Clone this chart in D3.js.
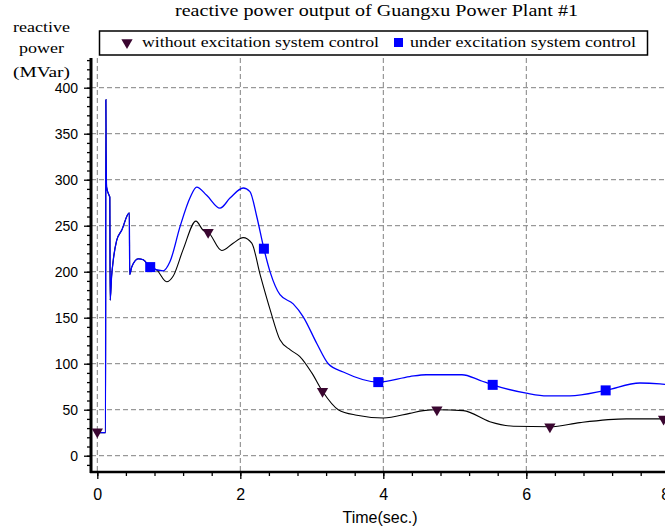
<!DOCTYPE html>
<meta charset="utf-8">
<style>
body { margin: 0; background: #fff; }
.grid { stroke: #808080; stroke-width: 1px; stroke-dasharray: 5,3; fill: none; }
.serif { font-family: "Liberation Serif", "Times New Roman", serif; fill: #000; }
.sans { font-family: "Liberation Sans", Arial, sans-serif; fill: #000; }
.tick line { stroke: #000; stroke-width: 1.3px; }
</style>
<svg width="665" height="531"></svg>
<script src="https://cdn.jsdelivr.net/npm/d3@7"></script>
<script>
var width = 665,
    height = 531;

// time (sec.) and reactive power (MVar)
var underT = [0, 0.115, 0.12, 0.123, 0.127, 0.13, 0.165, 0.175, 0.18, 0.2, 0.224, 0.271, 0.341, 0.448, 0.453, 0.481, 0.573, 0.643, 0.737,
  0.923, 1.017, 1.157, 1.30, 1.39, 1.53, 1.716, 1.856, 2.04, 2.135, 2.23, 2.33, 2.42, 2.555, 2.74, 2.88, 3.07, 3.23, 3.44, 3.93,
  4.37, 4.6, 5.1, 5.35, 5.53, 6.0, 6.29, 6.61, 7.11, 7.59, 7.87, 8.0];
var underV = [25, 25, 387, 332, 300, 292, 283, 281, 169, 195, 213, 234, 245, 264, 197, 205, 214, 213, 205,
  201, 211, 249, 281, 292, 283, 269, 280, 291, 287, 260, 225, 199, 175, 165, 151, 122, 100, 91, 80,
  86, 88, 88, 82, 77, 68, 65, 65, 71, 79, 78, 77];

var withoutT = [0, 0.115, 0.12, 0.123, 0.127, 0.13, 0.165, 0.175, 0.18, 0.2, 0.224, 0.271, 0.341, 0.448, 0.453, 0.481, 0.573, 0.643, 0.737,
  0.83, 0.97, 1.06, 1.2, 1.38, 1.48, 1.55, 1.74, 1.90, 2.04, 2.16, 2.28, 2.42, 2.555, 2.70, 2.83, 3.0, 3.15, 3.37, 3.63, 4.0,
  4.37, 4.56, 4.75, 5.12, 5.49, 5.82, 6.33, 6.75, 7.40, 7.92, 8.0];
var withoutV = [25, 25, 387, 332, 300, 292, 283, 281, 169, 195, 213, 234, 245, 264, 197, 205, 214, 213, 205,
  202, 189, 195, 224, 255, 245, 243, 223, 231, 237, 231, 196, 158, 126, 115, 108, 90, 70, 50, 44, 41,
  46, 49, 50, 49, 37, 32, 31.5, 36, 40, 40, 40];

var underMarkT = [0.74, 2.33, 3.93, 5.53, 7.11],
    underMarkV = [205, 225, 80, 77, 71];
var withoutMarkT = [0, 1.55, 3.15, 4.75, 6.33, 7.92],
    withoutMarkV = [26, 243, 70, 50, 31.5, 40];

var xTicks = [0, 2, 4, 6, 8],
    yTicks = [0, 50, 100, 150, 200, 250, 300, 350, 400];

var titleText = "reactive power output of Guangxu Power Plant #1",
    yLabel = ["reactive", "power", "(MVar)"],
    xLabel = "Time(sec.)",
    legendNames = ["without excitation system control", "under excitation system control"];

var blue = "#0000ff", dark = "#3a0630";

var svg = d3.select("svg").attr("width", width).attr("height", height);

var x = d3.scaleLinear().domain([0, 8]).range([97.3, 669.3]);
var y = d3.scaleLinear().domain([0, 400]).range([455.7, 87.7]);

var axisX = 91, axisY = 472, plotTop = 58;

// grid
svg.append("g").selectAll("line.h")
    .data(yTicks)
  .enter().append("line")
    .attr("class", "grid")
    .attr("x1", axisX).attr("x2", width)
    .attr("y1", function(d) { return y(d); })
    .attr("y2", function(d) { return y(d); });
svg.append("g").selectAll("line.v")
    .data(xTicks)
  .enter().append("line")
    .attr("class", "grid")
    .attr("y1", plotTop).attr("y2", axisY)
    .attr("x1", function(d) { return x(d); })
    .attr("x2", function(d) { return x(d); });

// y axis: minor every 10, major every 50
var yMinor = d3.range(-10, 431, 10);
svg.append("g")
    .attr("transform", "translate(" + axisX + ",0)")
    .call(d3.axisLeft(y).tickValues(yMinor).tickSize(4).tickFormat(""))
    .call(function(g) { g.select(".domain").remove(); });
svg.append("g")
    .attr("class", "sans")
    .attr("transform", "translate(" + axisX + ",0)")
    .call(d3.axisLeft(y).tickValues(yTicks).tickSize(7).tickPadding(6))
    .call(function(g) {
      g.select(".domain").remove();
      g.selectAll("text").attr("font-size", "14px").attr("fill", "#000")
        .attr("font-family", "Liberation Sans, Arial, sans-serif");
    });

// x axis: minor every 0.4
var xMinor = d3.range(0, 8.01, 0.4);
svg.append("g")
    .attr("transform", "translate(0," + axisY + ")")
    .call(d3.axisBottom(x).tickValues(xMinor).tickSize(4).tickFormat(""))
    .call(function(g) { g.select(".domain").remove(); });
svg.append("g")
    .attr("transform", "translate(0," + axisY + ")")
    .call(d3.axisBottom(x).tickValues(xTicks).tickSize(7).tickPadding(10).tickFormat(d3.format("d")))
    .call(function(g) {
      g.select(".domain").remove();
      g.selectAll("text").attr("font-size", "16px").attr("fill", "#000")
        .attr("font-family", "Liberation Sans, Arial, sans-serif")
        .attr("x", function(d) { return d === 8 ? -4 : 0; });  // last label sits at the window edge
    });

// axis lines
svg.append("line")
    .attr("x1", axisX).attr("x2", axisX)
    .attr("y1", plotTop).attr("y2", axisY + 1)
    .attr("stroke", "#000").attr("stroke-width", 3);
svg.append("line")
    .attr("x1", axisX - 1).attr("x2", width)
    .attr("y1", axisY).attr("y2", axisY)
    .attr("stroke", "#000").attr("stroke-width", 2.5);

// curves
var line = d3.line()
    .x(function(d) { return x(d[0]); })
    .y(function(d) { return y(d[1]); })
    .curve(d3.curveMonotoneX);

var withoutData = withoutT.map(function(t, i) { return [t, withoutV[i]]; });
var underData = underT.map(function(t, i) { return [t, underV[i]]; });

svg.append("path")
    .datum(withoutData)
    .attr("d", line)
    .attr("fill", "none").attr("stroke", "#000").attr("stroke-width", 1.1);
svg.append("path")
    .datum(underData)
    .attr("d", line)
    .attr("fill", "none").attr("stroke", blue).attr("stroke-width", 1.3);

var tri = d3.symbol().type(d3.symbolTriangle).size(55);

svg.append("g").selectAll("path")
    .data(withoutMarkT)
  .enter().append("path")
    .attr("d", tri)
    .attr("fill", dark)
    .attr("transform", function(d, i) {
      return "translate(" + x(d) + "," + y(withoutMarkV[i]) + ") rotate(180)";
    });

svg.append("g").selectAll("rect")
    .data(underMarkT)
  .enter().append("rect")
    .attr("x", function(d) { return x(d) - 5; })
    .attr("y", function(d, i) { return y(underMarkV[i]) - 5; })
    .attr("width", 10).attr("height", 10)
    .attr("fill", blue);

// title and labels
svg.append("text")
    .attr("class", "serif")
    .attr("x", 175).attr("y", 16)
    .attr("font-size", "16px")
    .attr("textLength", 403).attr("lengthAdjust", "spacingAndGlyphs")
    .text(titleText);

var yLabelPos = [[13, 31.5, 57], [19, 53, 45], [13, 77, 57]];
svg.append("g").selectAll("text")
    .data(yLabel)
  .enter().append("text")
    .attr("class", "serif")
    .attr("font-size", "15px")
    .attr("x", function(d, i) { return yLabelPos[i][0]; })
    .attr("y", function(d, i) { return yLabelPos[i][1]; })
    .attr("textLength", function(d, i) { return yLabelPos[i][2]; })
    .attr("lengthAdjust", "spacingAndGlyphs")
    .text(function(d) { return d; });

svg.append("text")
    .attr("class", "sans")
    .attr("x", 380).attr("y", 522.5)
    .attr("text-anchor", "middle")
    .attr("font-size", "16px")
    .text(xLabel);

// legend
var legend = svg.append("g");
legend.append("rect")
    .attr("x", 99.5).attr("y", 31)
    .attr("width", 548).attr("height", 24)
    .attr("fill", "#fff").attr("stroke", "#000").attr("stroke-width", 1.5);
legend.append("path")
    .attr("d", tri)
    .attr("fill", dark)
    .attr("transform", "translate(127,42.5) rotate(180)");
legend.append("rect")
    .attr("x", 394).attr("y", 38)
    .attr("width", 9).attr("height", 9)
    .attr("fill", blue);
var legendPos = [[142, 237], [410, 226]];
legend.selectAll("text")
    .data(legendNames)
  .enter().append("text")
    .attr("class", "serif")
    .attr("font-size", "14px")
    .attr("x", function(d, i) { return legendPos[i][0]; })
    .attr("y", 47)
    .attr("textLength", function(d, i) { return legendPos[i][1]; })
    .attr("lengthAdjust", "spacingAndGlyphs")
    .text(function(d) { return d; });
</script>
